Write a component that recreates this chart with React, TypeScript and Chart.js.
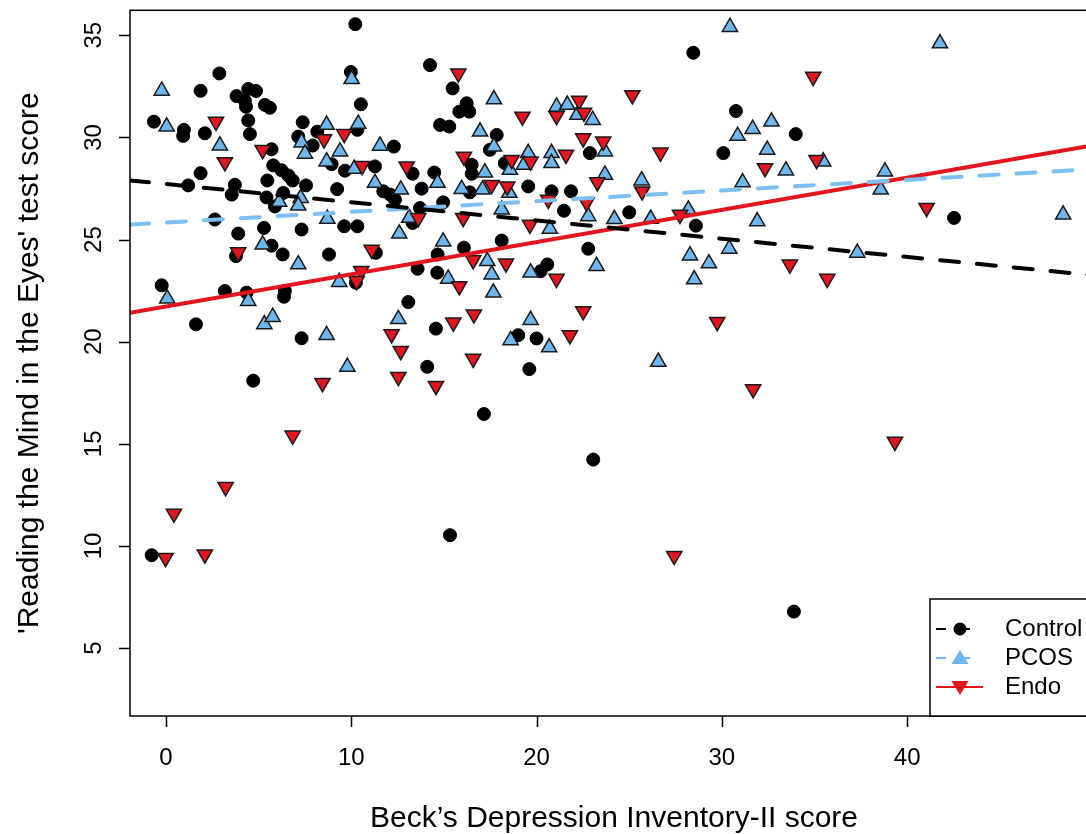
import React, { useEffect, useRef } from "react";
import { Chart, registerables } from "chart.js";

Chart.register(...registerables);

const xTicks = [0, 10, 20, 30, 40];
const yTicks = [5, 10, 15, 20, 25, 30, 35];
const xRange = [-1.94, 50.3];
const yRange = [1.68, 36.22];
const groupLabels = ["Control", "PCOS", "Endo"];
const xTitle = "Beck\u2019s Depression Inventory-II score";
const yTitle = "'Reading the Mind in the Eyes' test score";

const controlPoints: [number, number][] = [
  [10.22, 35.54], [2.88, 33.13], [1.87, 32.28], [4.44, 32.37], [4.86, 32.27], [3.81, 32.02],
  [4.26, 31.8], [4.32, 31.5], [5.34, 31.59], [5.61, 31.45], [9.98, 33.2], [10.52, 31.62],
  [-0.65, 30.77], [0.97, 30.37], [0.93, 30.07], [2.1, 30.2], [4.44, 30.83], [4.53, 30.16],
  [7.38, 30.74], [7.14, 30.04], [7.92, 29.6], [8.17, 30.28], [5.7, 29.42], [10.33, 30.37],
  [8.94, 28.69], [9.66, 28.37], [5.79, 28.63], [6.24, 28.39], [6.6, 28.14], [6.84, 27.89],
  [1.87, 28.25], [1.2, 27.65], [3.72, 27.68], [3.55, 27.2], [5.47, 27.89], [7.56, 27.65],
  [9.24, 27.47], [5.43, 27.06], [5.88, 26.62], [6.33, 27.28], [2.64, 25.98], [3.9, 25.29],
  [5.29, 25.57], [7.32, 25.49], [9.62, 25.65], [10.33, 25.65], [5.7, 24.7],
  [14.25, 33.54], [15.47, 32.4], [16.23, 31.67], [15.83, 31.26], [16.37, 31.26], [14.79, 30.61],
  [15.29, 30.53], [17.85, 30.12], [17.48, 29.39], [12.3, 29.55], [11.28, 28.58], [13.31, 28.22],
  [14.48, 28.28], [16.5, 28.66], [16.5, 28.22], [18.29, 28.74], [13.8, 27.49], [11.73, 27.36],
  [12.36, 26.95], [14.96, 26.82], [16.4, 27.31], [19.55, 27.6], [20.81, 27.36], [21.86, 27.36],
  [21.48, 26.41], [22.88, 29.23], [13.71, 26.54], [13.31, 25.81], [18.12, 24.95], [12.1, 27.2],
  [28.46, 34.14], [30.76, 31.29], [33.99, 30.16], [30.08, 29.23], [25.0, 26.33], [28.6, 25.68],
  [42.53, 26.06],
  [3.78, 24.19], [6.3, 24.27], [8.8, 24.27], [-0.23, 22.76], [3.18, 22.48], [4.35, 22.4],
  [6.42, 22.48], [6.37, 22.2], [10.25, 22.89], [1.62, 20.85], [7.32, 20.17], [4.71, 18.09],
  [16.08, 24.6], [11.33, 24.35], [14.66, 24.27], [13.58, 23.57], [14.64, 23.38], [20.22, 23.45],
  [20.58, 23.78], [22.79, 24.55], [13.08, 21.94], [14.57, 20.64], [14.1, 18.77], [19.01, 20.32],
  [20.0, 20.16], [19.61, 18.66], [17.16, 16.46], [23.06, 14.23],
  [-0.77, 9.55], [15.33, 10.53], [33.89, 6.79],
];

const pcosPoints: [number, number][] = [
  [-0.23, 32.28], [0.04, 30.53], [10.02, 32.85], [8.67, 30.61], [10.38, 30.66], [2.91, 29.6],
  [7.32, 29.75], [7.5, 29.2], [9.39, 29.31], [8.67, 28.82], [10.16, 28.46], [6.11, 26.84],
  [7.27, 27.03], [7.14, 26.66], [8.71, 26.01], [5.22, 24.75],
  [17.7, 31.86], [16.95, 30.28], [11.55, 29.59], [17.7, 29.55], [21.08, 31.5], [21.66, 31.59],
  [22.2, 31.1], [23.03, 30.85], [19.55, 29.23], [20.81, 29.23], [19.32, 28.66], [20.81, 28.74],
  [18.56, 28.41], [23.69, 29.31], [23.69, 28.17], [11.28, 27.77], [12.67, 27.44], [14.66, 27.77],
  [17.21, 28.28], [15.96, 27.47], [17.08, 27.44], [18.53, 27.28], [18.12, 26.46], [22.79, 26.14],
  [13.13, 26.06], [12.59, 25.29], [20.72, 25.52], [14.96, 24.9], [24.2, 26.0],
  [30.44, 35.4], [32.68, 30.77], [31.66, 30.41], [30.85, 30.07], [32.45, 29.39], [33.46, 28.38],
  [35.47, 28.82], [25.67, 27.89], [31.12, 27.8], [26.16, 26.01], [28.19, 26.46], [31.91, 25.89],
  [41.77, 34.6], [38.8, 28.33], [38.57, 27.44], [48.42, 26.22],
  [7.14, 23.78], [0.07, 22.11], [4.44, 21.99], [9.35, 22.92], [5.31, 20.85], [5.76, 21.21],
  [8.67, 20.32], [9.79, 18.77],
  [15.23, 23.08], [17.34, 23.94], [17.58, 23.29], [17.67, 22.4], [19.68, 23.38], [23.24, 23.7],
  [12.54, 21.1], [19.68, 21.06], [18.6, 20.07], [20.68, 19.72],
  [28.28, 24.22], [29.3, 23.83], [30.4, 24.55], [28.51, 23.05], [26.57, 19.01], [37.31, 24.35],
];

const endoPoints: [number, number][] = [
  [2.7, 30.77], [8.53, 29.91], [9.62, 30.17], [3.18, 28.79], [5.22, 29.39], [10.59, 28.61],
  [15.78, 33.13], [19.24, 31.02], [21.08, 31.05], [22.3, 31.8], [22.56, 31.21], [22.52, 29.96],
  [23.6, 29.8], [16.08, 29.06], [12.99, 28.58], [18.66, 28.9], [19.68, 28.82], [21.59, 29.15],
  [17.58, 27.68], [18.42, 27.6], [23.28, 27.81], [20.63, 26.95], [22.7, 26.82], [13.62, 26.06],
  [16.04, 26.06], [19.64, 25.73],
  [34.93, 32.97], [25.17, 32.07], [26.69, 29.26], [32.33, 28.5], [35.11, 28.9], [25.7, 27.36],
  [27.74, 26.22], [41.05, 26.55],
  [3.9, 24.38], [10.54, 23.46], [10.29, 22.97], [8.45, 17.98], [6.84, 15.41],
  [11.1, 24.51], [15.83, 22.72], [16.58, 23.99], [18.35, 23.83], [21.08, 23.08], [12.18, 20.37],
  [12.67, 19.55], [15.51, 20.94], [16.62, 21.34], [16.58, 19.17], [12.54, 18.28], [14.57, 17.84],
  [21.8, 20.32], [22.52, 21.5],
  [33.67, 23.78], [35.69, 23.08], [29.75, 20.97], [31.69, 17.68], [39.34, 15.11],
  [3.22, 12.89], [0.43, 11.59], [-0.02, 9.42], [2.1, 9.59], [27.43, 9.52],
];

// regression line end points
const fitX = [-1.94, 50.3];
const controlFit = [27.89, 23.23];
const pcosFit = [25.73, 28.46];
const endoFit = [21.42, 29.65];

const BLACK = "#000000";
const BLUE = "#6DB6EE";
const BLUE_LINE = "#7CC0F2";
const RED = "#E3151E";
const FONT = '"Liberation Sans", Arial, Helvetica, sans-serif';

export default function App() {
  const ref = useRef<HTMLCanvasElement>(null);

  useEffect(() => {
    const canvas = ref.current;
    if (!canvas) return;
    const toXY = (pts: [number, number][]) => pts.map(([x, y]) => ({ x, y }));
    const fit = (ys: number[]) => fitX.map((x, i) => ({ x, y: ys[i] }));

    const axesPlugin = {
      id: "rAxes",
      afterDraw(chart: any) {
        const { ctx, chartArea: a, scales } = chart;
        const xs = scales.x;
        const ys = scales.y;
        ctx.save();
        ctx.strokeStyle = "#000";
        ctx.lineWidth = 1.5;
        ctx.strokeRect(a.left, a.top, a.right - a.left, a.bottom - a.top);

        // x axis ticks
        ctx.beginPath();
        for (const t of xTicks) {
          const px = Math.round(xs.getPixelForValue(t)) + 0.5;
          ctx.moveTo(px, a.bottom);
          ctx.lineTo(px, a.bottom + 11);
        }
        // y axis ticks
        for (const t of yTicks) {
          const py = Math.round(ys.getPixelForValue(t)) + 0.5;
          ctx.moveTo(a.left, py);
          ctx.lineTo(a.left - 11, py);
        }
        ctx.stroke();

        ctx.fillStyle = "#000";
        ctx.font = `24px ${FONT}`;
        ctx.textAlign = "center";
        ctx.textBaseline = "middle";
        for (const t of xTicks) {
          ctx.fillText(String(t), xs.getPixelForValue(t), a.bottom + 42);
        }
        for (const t of yTicks) {
          ctx.save();
          ctx.translate(a.left - 36, ys.getPixelForValue(t));
          ctx.rotate(-Math.PI / 2);
          ctx.fillText(String(t), 0, 0);
          ctx.restore();
        }

        // axis titles
        ctx.font = `30px ${FONT}`;
        ctx.fillText(xTitle, (a.left + a.right) / 2, a.bottom + 103);
        ctx.save();
        ctx.translate(30, (a.top + a.bottom) / 2);
        ctx.rotate(-Math.PI / 2);
        ctx.fillText(yTitle, 0, 0);
        ctx.restore();

        // legend (bottom right inside the plot)
        const lx = 930;
        const ly = a.bottom - 117;
        ctx.fillStyle = "#fff";
        ctx.fillRect(lx, ly, a.right - lx, a.bottom - ly);
        ctx.strokeStyle = "#000";
        ctx.lineWidth = 1.5;
        ctx.strokeRect(lx, ly, a.right - lx, a.bottom - ly);
        const rows = [
          { y: ly + 30, color: BLACK, dash: [10, 14], kind: "circle" },
          { y: ly + 59, color: BLUE, dash: [10, 14], kind: "up" },
          { y: ly + 88, color: RED, dash: [], kind: "down" },
        ];
        rows.forEach((r, i) => {
          ctx.save();
          ctx.strokeStyle = r.color;
          ctx.lineWidth = 2;
          ctx.setLineDash(r.dash);
          ctx.beginPath();
          ctx.moveTo(lx + 6, r.y);
          ctx.lineTo(lx + 53, r.y);
          ctx.stroke();
          ctx.restore();
          const cx = lx + 30;
          ctx.fillStyle = r.color;
          ctx.beginPath();
          if (r.kind === "circle") {
            ctx.arc(cx, r.y, 6.5, 0, Math.PI * 2);
          } else if (r.kind === "up") {
            ctx.moveTo(cx, r.y - 8);
            ctx.lineTo(cx + 8.5, r.y + 6);
            ctx.lineTo(cx - 8.5, r.y + 6);
          } else {
            ctx.moveTo(cx, r.y + 8);
            ctx.lineTo(cx + 8.5, r.y - 6);
            ctx.lineTo(cx - 8.5, r.y - 6);
          }
          ctx.closePath();
          ctx.fill();
          ctx.fillStyle = "#000";
          ctx.font = `24px ${FONT}`;
          ctx.textAlign = "left";
          ctx.fillText(groupLabels[i], lx + 75, r.y);
        });
        ctx.restore();
      },
    };

    const chart = new Chart(canvas, {
      type: "scatter",
      data: {
        datasets: [
          {
            type: "line",
            label: groupLabels[0] + " fit",
            data: fit(controlFit),
            borderColor: BLACK,
            borderWidth: 4,
            borderDash: [19, 18],
            borderCapStyle: "round",
            pointRadius: 0,
            order: 0,
          },
          {
            type: "line",
            label: groupLabels[1] + " fit",
            data: fit(pcosFit),
            borderColor: BLUE_LINE,
            borderWidth: 4,
            borderDash: [19, 18],
            borderCapStyle: "round",
            pointRadius: 0,
            order: 0,
          },
          {
            type: "line",
            label: groupLabels[2] + " fit",
            data: fit(endoFit),
            borderColor: RED,
            borderWidth: 4,
            pointRadius: 0,
            order: 0,
          },
          {
            label: groupLabels[2],
            data: toXY(endoPoints),
            pointStyle: "triangle",
            rotation: 180,
            pointRadius: 8.8,
            backgroundColor: RED,
            borderColor: "#1a1a1a",
            borderWidth: 1.5,
            order: 1,
          },
          {
            label: groupLabels[1],
            data: toXY(pcosPoints),
            pointStyle: "triangle",
            pointRadius: 8.8,
            backgroundColor: BLUE,
            borderColor: "#1a1a1a",
            borderWidth: 1.5,
            order: 2,
          },
          {
            label: groupLabels[0],
            data: toXY(controlPoints),
            pointStyle: "circle",
            pointRadius: 6.5,
            backgroundColor: BLACK,
            borderColor: BLACK,
            borderWidth: 1,
            order: 3,
          },
        ],
      },
      options: {
        responsive: false,
        animation: false,
        layout: { padding: { left: 130, top: 8, right: 62, bottom: 118 } },
        plugins: { legend: { display: false }, tooltip: { enabled: false } },
        scales: {
          x: { type: "linear", min: xRange[0], max: xRange[1], display: false },
          y: { type: "linear", min: yRange[0], max: yRange[1], display: false },
        },
      },
      plugins: [axesPlugin],
    } as any);

    return () => chart.destroy();
  }, []);

  return (
    <div
      style={{
        position: "absolute",
        left: 0,
        top: 0,
        width: 1086,
        height: 834,
        overflow: "hidden",
        background: "#fff",
      }}
    >
      <canvas ref={ref} width={1160} height={834} style={{ width: 1160, height: 834, display: "block" }} />
    </div>
  );
}
